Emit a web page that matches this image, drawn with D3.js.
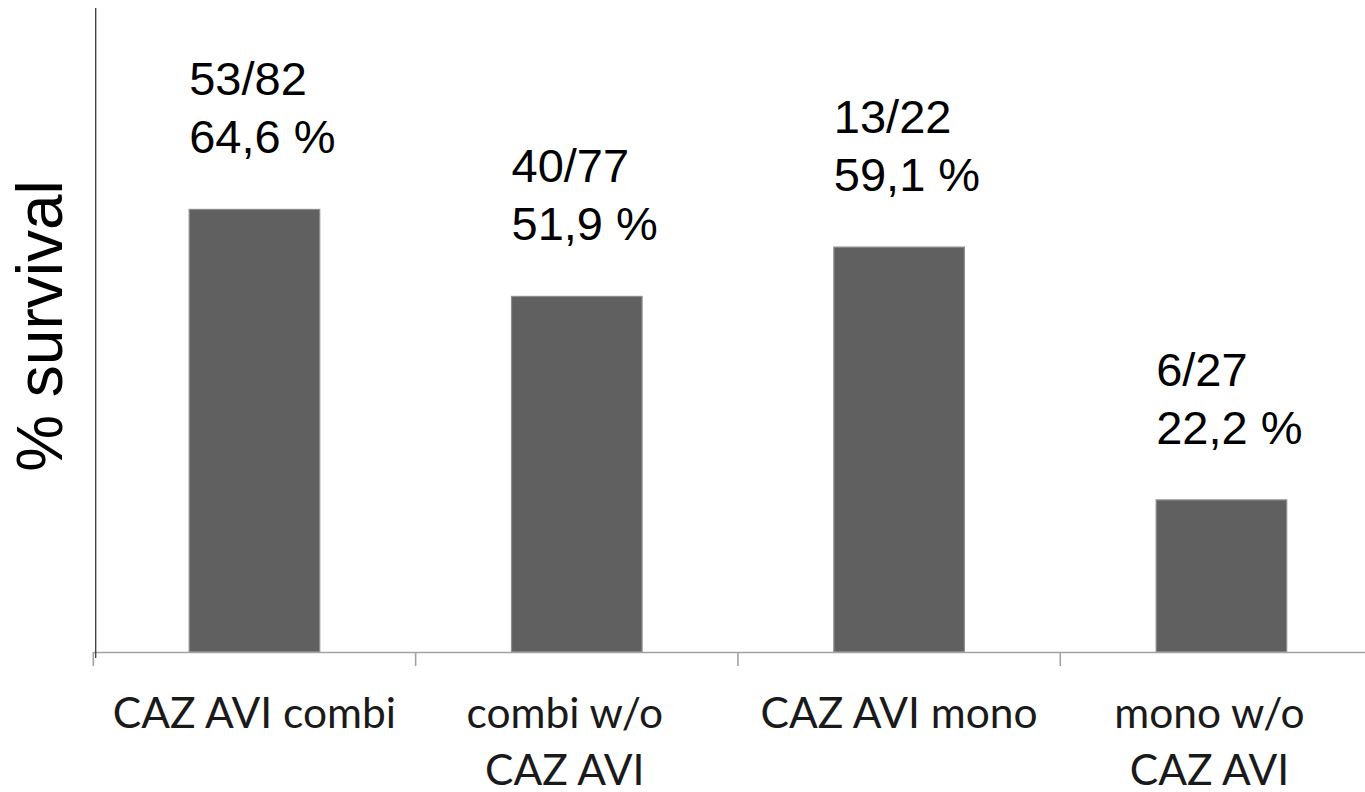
<!DOCTYPE html>
<html>
<head>
<meta charset="utf-8">
<script src="https://cdn.jsdelivr.net/npm/d3@7"></script>
<style>
  html, body { margin: 0; padding: 0; background: #fff; }
  svg { display: block; }
</style>
</head>
<body>
<svg id="chart" width="1365" height="792"></svg>
<script>
// Survival by treatment group
const categories = ["CAZ AVI combi", "combi w/o CAZ AVI", "CAZ AVI mono", "mono w/o CAZ AVI"];
const categoryLines = [["CAZ AVI combi"], ["combi w/o", "CAZ AVI"], ["CAZ AVI mono"], ["mono w/o", "CAZ AVI"]];
const survivors = [53, 40, 13, 6];
const totals = [82, 77, 22, 27];
const survivalPct = [64.6, 51.9, 59.1, 22.2];
const yMax = 94;
const yTitle = "% survival";

const svg = d3.select("#chart");

const plot = { left: 93.3, right: 1382.6, top: 8, bottom: 652 };

const x = d3.scaleBand()
  .domain(categories)
  .range([plot.left, plot.right])
  .padding(0);

const y = d3.scaleLinear()
  .domain([0, yMax])
  .range([plot.bottom, plot.top]);

const barW = x.bandwidth() * 0.405;

const data = categories.map((c, i) => ({
  cat: c,
  lines: categoryLines[i],
  n: survivors[i],
  total: totals[i],
  pct: survivalPct[i]
}));

// bars
svg.append("g")
  .selectAll("rect")
  .data(data)
  .join("rect")
  .attr("x", d => x(d.cat) + (x.bandwidth() - barW) / 2)
  .attr("y", d => y(d.pct))
  .attr("width", barW)
  .attr("height", d => y(0) - y(d.pct))
  .attr("fill", "#606060")
  .attr("stroke", "#8e8e8e")
  .attr("stroke-width", 1.2);

// category axis: baseline with ticks at the band boundaries
const xAxis = d3.axisBottom(x)
  .tickSize(0)
  .tickSizeOuter(0)
  .tickFormat("");
const gx = svg.append("g")
  .attr("transform", `translate(0,${y(0)})`)
  .call(xAxis);
gx.select(".domain").attr("stroke", "#a2a2a2").attr("stroke-width", 1.6);
gx.selectAll(".tick").remove();
gx.selectAll("line.boundary")
  .data(categories)
  .join("line")
  .attr("class", "boundary")
  .attr("x1", d => x(d))
  .attr("x2", d => x(d))
  .attr("y1", 0)
  .attr("y2", 14)
  .attr("stroke", "#a2a2a2")
  .attr("stroke-width", 1.6);

// value axis line (no ticks)
svg.append("line")
  .attr("x1", plot.left + 2.4)
  .attr("x2", plot.left + 2.4)
  .attr("y1", y(yMax))
  .attr("y2", y(0) + 6)
  .attr("stroke", "#3a3a3a")
  .attr("stroke-width", 1.3);

// category labels (wrapped labels sit a little left of the band centre)
const catG = svg.append("g")
  .attr("font-family", "Lato, 'Open Sans', sans-serif")
  .attr("font-size", 42.5)
  .attr("fill", "#1a1a1a")
  .attr("text-anchor", "middle");
catG.selectAll("text")
  .data(data)
  .join("text")
  .attr("x", d => x(d.cat) + x.bandwidth() / 2 - (d.lines.length > 1 ? 12 : 0))
  .attr("y", y(0) + 76)
  .selectAll("tspan")
  .data(d => d.lines.map((l, k) => ({ l, k })))
  .join("tspan")
  .attr("x", function () { return d3.select(this.parentNode).attr("x"); })
  .attr("dy", d => d.k === 0 ? 0 : 57)
  .text(d => d.l);

// value labels above bars
const valG = svg.append("g")
  .attr("font-family", "'Liberation Sans', Arial, sans-serif")
  .attr("font-size", 47)
  .attr("fill", "#000");
valG.selectAll("text")
  .data(data)
  .join("text")
  .attr("x", d => x(d.cat) + (x.bandwidth() - barW) / 2)
  .attr("y", d => y(d.pct) - 114)
  .selectAll("tspan")
  .data(d => [`${d.n}/${d.total}`, `${String(d.pct).replace(".", ",")} %`])
  .join("tspan")
  .attr("x", function () { return d3.select(this.parentNode).attr("x"); })
  .attr("dy", (d, k) => k === 0 ? 0 : 58)
  .text(d => d);

// axis title
svg.append("text")
  .attr("transform", `translate(62,326) rotate(-90)`)
  .attr("text-anchor", "middle")
  .attr("font-family", "'Liberation Sans', Arial, sans-serif")
  .attr("font-size", 64)
  .attr("fill", "#000")
  .text(yTitle);
</script>
</body>
</html>
